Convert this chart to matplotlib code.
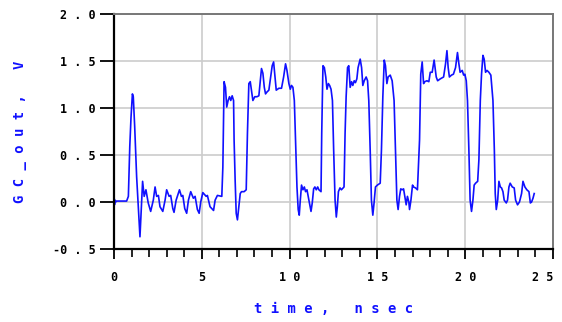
import numpy as np
import matplotlib
matplotlib.use("Agg")
import matplotlib.pyplot as plt
from matplotlib.ticker import MultipleLocator

# waveform (time in nsec, GC_out in V)
time_ns = [0.0, 0.01, 0.03, 0.06, 0.1, 0.15, 0.4, 0.72, 0.82, 0.9, 0.97, 1.05, 1.1, 1.18,
           1.29, 1.4, 1.48, 1.55, 1.63, 1.72, 1.82, 1.95, 2.09, 2.24, 2.34, 2.43, 2.53,
           2.62, 2.78, 2.91, 3.0, 3.14, 3.23, 3.35, 3.42, 3.54, 3.73, 3.84, 3.92, 4.03,
           4.14, 4.24, 4.37, 4.52, 4.62, 4.75, 4.85, 4.94, 5.06, 5.25, 5.32, 5.47, 5.67,
           5.76, 5.89, 6.14, 6.2, 6.27, 6.35, 6.42, 6.5, 6.58, 6.65, 6.73, 6.81, 6.84,
           6.9, 6.96, 7.03, 7.11, 7.19, 7.26, 7.41, 7.53, 7.6, 7.68, 7.76, 7.83, 7.91,
           8.02, 8.14, 8.25, 8.33, 8.4, 8.48, 8.56, 8.63, 8.71, 8.82, 8.94, 9.01, 9.09,
           9.17, 9.24, 9.39, 9.54, 9.66, 9.77, 9.85, 9.96, 10.04, 10.11, 10.19, 10.27,
           10.34, 10.42, 10.49, 10.55, 10.61, 10.68, 10.76, 10.84, 10.91, 10.99, 11.1,
           11.22, 11.29, 11.37, 11.44, 11.52, 11.6, 11.67, 11.79, 11.83, 11.9, 11.98,
           12.06, 12.13, 12.21, 12.28, 12.36, 12.44, 12.51, 12.59, 12.66, 12.72, 12.78,
           12.87, 12.95, 13.1, 13.16, 13.22, 13.3, 13.37, 13.45, 13.53, 13.6, 13.68,
           13.75, 13.83, 13.9, 14.02, 14.1, 14.17, 14.25, 14.36, 14.44, 14.51, 14.59,
           14.66, 14.74, 14.81, 14.89, 15.0, 15.16, 15.23, 15.31, 15.39, 15.46, 15.54,
           15.61, 15.73, 15.84, 15.95, 16.03, 16.11, 16.18, 16.26, 16.33, 16.41, 16.49,
           16.56, 16.64, 16.71, 16.79, 16.83, 16.91, 17.0, 17.06, 17.17, 17.28, 17.4,
           17.47, 17.55, 17.63, 17.7, 17.82, 17.93, 18.01, 18.12, 18.23, 18.35, 18.43,
           18.58, 18.77, 18.88, 18.96, 19.03, 19.1, 19.22, 19.33, 19.45, 19.56, 19.64,
           19.71, 19.83, 19.91, 19.98, 20.06, 20.13, 20.21, 20.28, 20.36, 20.44, 20.51,
           20.59, 20.71, 20.78, 20.86, 20.93, 21.01, 21.08, 21.16, 21.24, 21.35, 21.46,
           21.58, 21.66, 21.71, 21.77, 21.85, 21.92, 22.0, 22.07, 22.15, 22.22, 22.34,
           22.41, 22.49, 22.56, 22.68, 22.79, 22.87, 22.98, 23.09, 23.21, 23.29, 23.4,
           23.51, 23.63, 23.71, 23.78, 23.86, 23.93]
gc_out = [0.28, 0.05, -0.03, 0.02, 0.0, 0.01, 0.01, 0.01, 0.06, 0.59, 0.9, 1.15, 1.12, 0.8,
          0.27, -0.1, -0.37, -0.1, 0.22, 0.06, 0.13, -0.01, -0.1, 0.02, 0.16, 0.06, 0.07,
          -0.05, -0.1, 0.02, 0.13, 0.06, 0.07, -0.07, -0.11, 0.02, 0.13, 0.06, 0.07,
          -0.07, -0.12, 0.02, 0.11, 0.04, 0.06, -0.08, -0.12, 0.0, 0.1, 0.06, 0.07, -0.05,
          -0.09, 0.02, 0.07, 0.06, 0.37, 1.28, 1.22, 1.01, 1.08, 1.12, 1.08, 1.13, 1.08,
          0.66, 0.23, -0.12, -0.19, -0.05, 0.09, 0.11, 0.11, 0.13, 0.73, 1.26, 1.28,
          1.19, 1.08, 1.12, 1.12, 1.13, 1.28, 1.42, 1.37, 1.22, 1.15, 1.17, 1.19, 1.35,
          1.45, 1.49, 1.33, 1.19, 1.21, 1.21, 1.33, 1.47, 1.4, 1.26, 1.2, 1.24, 1.22,
          1.08, 0.66, 0.16, -0.08, -0.14, 0.02, 0.18, 0.13, 0.16, 0.11, 0.13, 0.02,
          -0.1, -0.01, 0.14, 0.16, 0.13, 0.16, 0.13, 0.11, 0.73, 1.45, 1.43, 1.33, 1.2,
          1.26, 1.24, 1.2, 1.08, 0.55, 0.02, -0.16, -0.05, 0.11, 0.15, 0.13, 0.16, 0.73,
          1.12, 1.43, 1.45, 1.22, 1.28, 1.24, 1.29, 1.27, 1.31, 1.43, 1.52, 1.43, 1.24,
          1.29, 1.33, 1.29, 1.08, 0.55, 0.02, -0.14, -0.01, 0.16, 0.18, 0.2, 0.55, 1.12,
          1.51, 1.45, 1.26, 1.33, 1.35, 1.29, 1.08, 0.55, 0.02, -0.08, 0.06, 0.14, 0.13,
          0.14, 0.06, -0.03, 0.06, 0.0, -0.08, 0.02, 0.18, 0.16, 0.15, 0.13, 0.66, 1.36,
          1.49, 1.26, 1.28, 1.29, 1.28, 1.38, 1.38, 1.51, 1.33, 1.29, 1.31, 1.33, 1.47,
          1.61, 1.43, 1.33, 1.35, 1.36, 1.43, 1.59, 1.47, 1.38, 1.4, 1.35, 1.36, 1.29,
          1.08, 0.55, 0.02, -0.1, 0.02, 0.18, 0.2, 0.22, 0.45, 1.08, 1.36, 1.56, 1.52,
          1.38, 1.4, 1.38, 1.35, 1.08, 0.55, 0.09, -0.08, 0.02, 0.22, 0.16, 0.15, 0.11,
          0.02, -0.01, 0.02, 0.16, 0.2, 0.16, 0.15, 0.02, -0.03, 0.0, 0.09, 0.22, 0.16,
          0.13, 0.11, -0.01, 0.0, 0.04, 0.09]

x_ticks = [0, 5, 10, 15, 20, 25]
y_ticks = [-0.5, 0.0, 0.5, 1.0, 1.5, 2.0]

def spaced(s):
    return " ".join(s)

mono = "DejaVu Sans Mono"
blue = "#1010ff"

fig = plt.figure(figsize=(5.62, 3.22), dpi=100)
ax = fig.add_axes([0.2028, 0.2267, 0.7812, 0.7298])

ax.plot(time_ns, gc_out, color=blue, lw=1.2)

ax.set_xlim(0, 25)
ax.set_ylim(-0.5, 2.0)
ax.set_xticks(x_ticks)
ax.set_yticks(y_ticks)
ax.xaxis.set_minor_locator(MultipleLocator(1))
ax.set_xticklabels([spaced(str(v)) for v in x_ticks], fontfamily=mono,
                   fontweight="bold", fontsize=8.5)
ax.set_yticklabels([spaced(f"{v:.1f}").replace("- ", "-") for v in y_ticks],
                   fontfamily=mono, fontweight="bold", fontsize=8.5)
# last x label sits at the right edge, as in the reference; keep it inside
ax.get_xticklabels()[-1].set_horizontalalignment("right")

ax.grid(True, which="major", color="#cccccc", lw=1.2)
ax.set_axisbelow(True)

ax.tick_params(axis="x", which="major", direction="out", length=7, width=1.3, pad=9)
ax.tick_params(axis="x", which="minor", direction="out", length=6, width=1.2)
ax.tick_params(axis="y", which="major", direction="out", length=10, width=1.3, pad=3)

for side in ["left", "bottom"]:
    ax.spines[side].set_linewidth(1.6)
    ax.spines[side].set_color("black")
for side in ["top", "right"]:
    ax.spines[side].set_linewidth(1.4)
    ax.spines[side].set_color("#777777")

ax.set_xlabel(spaced("time, nsec"), fontfamily=mono, fontweight="bold",
              fontsize=10, color=blue, labelpad=13)
ax.set_ylabel(spaced("GC_out, V"), fontfamily=mono, fontweight="bold",
              fontsize=10, color=blue, labelpad=19)

fig.savefig("out.png", dpi=100)
